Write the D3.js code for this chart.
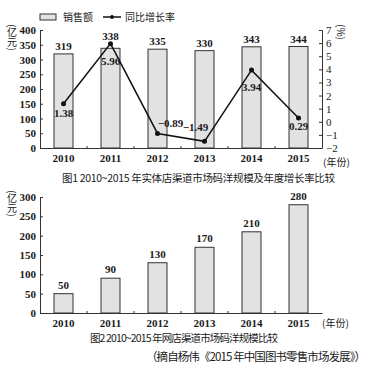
<!DOCTYPE html>
<html>
<head>
<meta charset="utf-8">
<script src="https://cdn.jsdelivr.net/npm/d3@7"></script>
<style>
  body { margin: 0; background: #fff; }
  svg text { fill: #1a1a1a; }
  .vert { writing-mode: vertical-rl; }
</style>
</head>
<body>
<div id="chart"></div>
<script>
'use strict';

const years = ['2010', '2011', '2012', '2013', '2014', '2015'];
const storeSales = [319, 338, 335, 330, 343, 344];
const storeGrowth = [1.38, 5.96, -0.89, -1.49, 3.94, 0.29];
const onlineSales = [50, 90, 130, 170, 210, 280];

const salesTicks = [0, 50, 100, 150, 200, 250, 300, 350, 400];
const growthTicks = [-2, -1, 0, 1, 2, 3, 4, 5, 6, 7];
const onlineTicks = [0, 50, 100, 150, 200, 250, 300];

const serif = '"Liberation Serif", "DejaVu Serif", serif';
const cjk = '"Noto Sans CJK SC", sans-serif';

function buildChart() {
    const width = 373;
    const height = 370;

    const svg = d3.select('#chart')
        .append('svg')
            .attr('width', width)
            .attr('height', height);

    const x = d3.scaleBand()
        .domain(years)
        .range([40, 322]);
    const barWidth = 19;
    const cx = i => x(years[i]) + x.bandwidth() / 2;

    // ---- figure 1 ----
    const y1 = d3.scaleLinear().domain([0, 400]).range([148, 30]);
    const y1r = d3.scaleLinear().domain([-2, 7]).range([148, 30]);

    svg.append('g')
        .selectAll('rect')
        .data(storeSales)
        .enter()
        .append('rect')
            .attr('x', (d, i) => cx(i) - barWidth / 2)
            .attr('y', d => y1(d))
            .attr('width', barWidth)
            .attr('height', d => y1(0) - y1(d))
            .attr('fill', '#e2e2e2')
            .attr('stroke', '#333')
            .attr('stroke-width', 1);

    // sales labels sit above the bar, or above the growth point if it is higher
    svg.append('g')
        .attr('font-family', serif)
        .attr('font-size', 11)
        .attr('font-weight', 'bold')
        .attr('text-anchor', 'middle')
        .selectAll('text')
        .data(storeSales)
        .enter()
        .append('text')
            .attr('x', (d, i) => cx(i))
            .attr('y', (d, i) => Math.min(y1(d), y1r(storeGrowth[i])) - 4)
            .text(d => d);

    const leftAxis = svg.append('g')
        .attr('transform', 'translate(40,0)')
        .call(d3.axisLeft(y1).tickValues(salesTicks).tickSize(-3).tickPadding(4));
    const rightAxis = svg.append('g')
        .attr('transform', 'translate(322,0)')
        .call(d3.axisRight(y1r).tickValues(growthTicks).tickSize(-3).tickPadding(4));

    const xAxis1 = svg.append('g')
        .attr('transform', 'translate(0,148)')
        .call(d3.axisBottom(x).tickSize(0).tickPadding(6));

    const line = d3.line()
        .x((d, i) => cx(i))
        .y(d => y1r(d));

    svg.append('path')
        .datum(storeGrowth)
        .attr('fill', 'none')
        .attr('stroke', '#111')
        .attr('stroke-width', 1.5)
        .attr('d', line);

    svg.append('g')
        .selectAll('circle')
        .data(storeGrowth)
        .enter()
        .append('circle')
            .attr('cx', (d, i) => cx(i))
            .attr('cy', d => y1r(d))
            .attr('r', 2.5)
            .attr('fill', '#111');

    // label offsets for growth values
    const growthLabelPos = [[0, 13], [0, 21], [13, -6], [-9, -10], [0, 21], [0, 12]];
    svg.append('g')
        .attr('font-family', serif)
        .attr('font-size', 11)
        .attr('font-weight', 'bold')
        .attr('text-anchor', 'middle')
        .selectAll('text')
        .data(storeGrowth)
        .enter()
        .append('text')
            .attr('x', (d, i) => cx(i) + growthLabelPos[i][0])
            .attr('y', (d, i) => y1r(d) + growthLabelPos[i][1])
            .text(d => d < 0 ? '\u2212' + Math.abs(d).toFixed(2) : d.toFixed(2));

    // small ticks at band boundaries
    svg.append('g')
        .selectAll('line')
        .data(years.slice(1))
        .enter()
        .append('line')
            .attr('x1', d => x(d)).attr('x2', d => x(d))
            .attr('y1', 148).attr('y2', 146)
            .attr('stroke', '#333');

    svg.append('text')
        .attr('x', 323).attr('y', 166)
        .attr('font-family', cjk).attr('font-size', 10)
        .text('(年份)');

    svg.append('text')
        .attr('x', 62).attr('y', 182)
        .attr('font-family', cjk).attr('font-size', 10.5)
        .attr('textLength', 273)
        .text('图1  2010~2015 年实体店渠道市场码洋规模及年度增长率比较');

    // axis titles
    svg.append('text')
        .attr('class', 'vert')
        .attr('x', 12).attr('y', 24)
        .attr('font-family', cjk).attr('font-size', 10)
        .text('(亿元)');
    svg.append('text')
        .attr('class', 'vert')
        .attr('x', 341).attr('y', 24)
        .attr('font-family', cjk).attr('font-size', 10)
        .text('(%)');

    // legend
    const legend = svg.append('g').attr('font-family', cjk).attr('font-size', 10);
    legend.append('rect')
        .attr('x', 40).attr('y', 14).attr('width', 16).attr('height', 6)
        .attr('fill', '#e2e2e2').attr('stroke', '#333');
    legend.append('text').attr('x', 63).attr('y', 21).text('销售额');
    legend.append('line')
        .attr('x1', 103).attr('x2', 121).attr('y1', 17).attr('y2', 17)
        .attr('stroke', '#111').attr('stroke-width', 1.5);
    legend.append('circle').attr('cx', 112).attr('cy', 17).attr('r', 2).attr('fill', '#111');
    legend.append('text').attr('x', 125).attr('y', 21).text('同比增长率');

    // ---- figure 2 ----
    const y2 = d3.scaleLinear().domain([0, 300]).range([313, 197]);

    svg.append('g')
        .selectAll('rect')
        .data(onlineSales)
        .enter()
        .append('rect')
            .attr('x', (d, i) => cx(i) - barWidth / 2)
            .attr('y', d => y2(d))
            .attr('width', barWidth)
            .attr('height', d => y2(0) - y2(d))
            .attr('fill', '#e2e2e2')
            .attr('stroke', '#333')
            .attr('stroke-width', 1);

    svg.append('g')
        .attr('font-family', serif)
        .attr('font-size', 11)
        .attr('font-weight', 'bold')
        .attr('text-anchor', 'middle')
        .selectAll('text')
        .data(onlineSales)
        .enter()
        .append('text')
            .attr('x', (d, i) => cx(i))
            .attr('y', d => y2(d) - 5)
            .text(d => d);

    const leftAxis2 = svg.append('g')
        .attr('transform', 'translate(40,0)')
        .call(d3.axisLeft(y2).tickValues(onlineTicks).tickSize(-3).tickPadding(4));

    const xAxis2 = svg.append('g')
        .attr('transform', 'translate(0,313)')
        .call(d3.axisBottom(x).tickSize(0).tickPadding(6));

    svg.append('g')
        .selectAll('line')
        .data(years.slice(1))
        .enter()
        .append('line')
            .attr('x1', d => x(d)).attr('x2', d => x(d))
            .attr('y1', 313).attr('y2', 311)
            .attr('stroke', '#333');

    svg.append('text')
        .attr('x', 322).attr('y', 327)
        .attr('font-family', cjk).attr('font-size', 10)
        .text('(年份)');

    svg.append('text')
        .attr('x', 90).attr('y', 342)
        .attr('font-family', cjk).attr('font-size', 10.5)
        .attr('textLength', 188)
        .text('图2  2010~2015 年网店渠道市场码洋规模比较');

    svg.append('text')
        .attr('class', 'vert')
        .attr('x', 12).attr('y', 190)
        .attr('font-family', cjk).attr('font-size', 10)
        .text('(亿元)');

    svg.append('text')
        .attr('x', 146).attr('y', 361)
        .attr('font-family', cjk).attr('font-size', 11.5)
        .attr('textLength', 220)
        .text('（摘自杨伟《2015 年中国图书零售市场发展》）');

    // axis styling
    [leftAxis, rightAxis, xAxis1, leftAxis2, xAxis2].forEach(g => {
        g.select('.domain').attr('stroke', '#333');
        g.selectAll('.tick line').attr('stroke', '#333');
        g.selectAll('.tick text')
            .attr('font-family', serif)
            .attr('font-size', 11)
            .attr('font-weight', 'bold')
            .attr('fill', '#1a1a1a');
    });
    rightAxis.selectAll('.tick text').attr('font-weight', 'normal');
}

window.addEventListener('DOMContentLoaded', () => {
    buildChart();
});
</script>
</body>
</html>
